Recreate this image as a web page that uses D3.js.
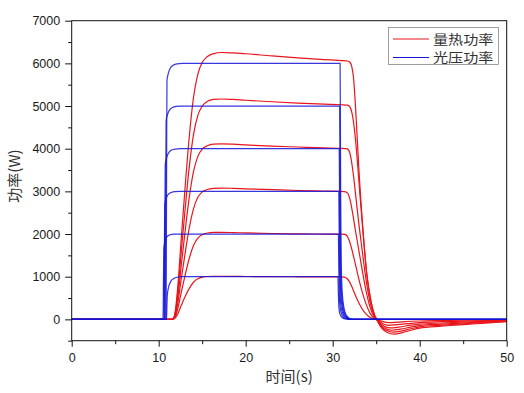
<!DOCTYPE html>
<html><head><meta charset="utf-8">
<script src="https://cdn.jsdelivr.net/npm/d3@7"></script>
<style>
html,body{margin:0;padding:0;background:#fff;}
svg{display:block;}
</style></head>
<body>
<svg id="chart" width="524" height="393"></svg>
<script>
// ---- data ----
const seriesNames = ["量热功率", "光压功率"];
const xTicks = [0, 10, 20, 30, 40, 50];
const xMinorTicks = [5, 15, 25, 35, 45];
const yTicks = [0, 1000, 2000, 3000, 4000, 5000, 6000, 7000];
const yMinorTicks = [-500, 500, 1500, 2500, 3500, 4500, 5500, 6500];

// 量热功率 (red), [time s, power W]
const red6000 = [[0,0],[11.6,0],[11.9,180],[12.2,780],[12.6,1920],[13.0,3000],[13.5,4250],[14.0,5200],[14.5,5750],[15.0,6020],[15.6,6160],[16.3,6230],[17.2,6255],[18.5,6245],[20,6225],[23,6175],[26,6130],[29,6090],[31.0,6065],[31.7,6055],[32.0,6020],[32.2,5920],[32.4,5650],[32.7,4700],[33.0,3550],[33.5,2050],[33.9,1080],[34.4,420],[34.8,100],[35.05,0],[35.5,-170],[36.2,-300],[37.1,-345],[38.0,-310],[39.0,-255],[40,-206],[42.5,-160],[45,-125],[47.5,-88],[50,-55]];
const red5000 = [[0,0],[11.6,0],[11.9,150],[12.2,650],[12.6,1600],[13.0,2500],[13.5,3550],[14.0,4330],[14.5,4780],[15.0,5000],[15.6,5110],[16.3,5155],[17.2,5165],[18.5,5155],[20,5135],[23,5100],[26,5070],[29,5045],[31.0,5030],[31.7,5020],[31.95,4985],[32.2,4850],[32.5,4450],[32.8,3800],[33.1,3000],[33.5,2000],[33.9,1100],[34.4,420],[34.8,110],[35.05,0],[35.5,-150],[36.2,-260],[37.0,-300],[38,-270],[39,-220],[40,-175],[42.5,-135],[45,-105],[47.5,-73],[50,-45]];
const red4000 = [[0,0],[11.6,0],[11.9,120],[12.2,520],[12.6,1280],[13.0,2000],[13.5,2840],[14.0,3460],[14.5,3820],[15.0,3990],[15.6,4070],[16.3,4105],[17.2,4112],[18.5,4105],[20,4090],[23,4060],[26,4040],[29,4020],[31.0,4010],[31.6,4000],[31.85,3960],[32.1,3780],[32.4,3350],[32.7,2800],[33.0,2250],[33.4,1600],[33.8,980],[34.3,400],[34.7,120],[35.05,0],[35.5,-125],[36.1,-220],[36.8,-255],[37.8,-230],[39,-180],[40,-145],[42.5,-110],[45,-85],[47.5,-60],[50,-37]];
const red3000 = [[0,0],[11.6,0],[11.9,90],[12.2,390],[12.6,960],[13.0,1500],[13.5,2130],[14.0,2590],[14.5,2860],[15.0,2985],[15.6,3045],[16.3,3070],[17.2,3078],[18.5,3072],[20,3060],[23,3040],[26,3020],[29,3008],[31.0,3000],[31.5,2990],[31.75,2950],[32.0,2800],[32.3,2480],[32.6,2100],[33.0,1620],[33.4,1150],[33.8,700],[34.3,280],[34.7,80],[35.05,0],[35.5,-95],[36.0,-170],[36.6,-200],[37.6,-180],[39,-135],[40,-110],[42.5,-85],[45,-65],[47.5,-45],[50,-28]];
const red2000 = [[0,0],[11.6,0],[11.9,60],[12.2,260],[12.6,640],[13.0,1000],[13.5,1420],[14.0,1730],[14.5,1905],[15.0,1985],[15.6,2025],[16.3,2038],[17.2,2040],[18.5,2035],[20,2025],[23,2012],[26,2005],[29,2000],[31.0,1997],[31.4,1990],[31.65,1955],[31.9,1850],[32.2,1640],[32.6,1300],[33.0,950],[33.4,640],[33.8,380],[34.3,140],[34.7,40],[35.05,0],[35.5,-65],[36.0,-120],[36.4,-140],[37.4,-125],[39,-92],[40,-75],[42.5,-55],[45,-42],[47.5,-28],[50,-18]];
const red1000 = [[0,0],[11.6,0],[11.9,30],[12.2,130],[12.6,330],[13.0,520],[13.5,720],[14.0,870],[14.5,950],[15.0,990],[15.6,1005],[16.3,1010],[17.2,1010],[18.5,1008],[20,1005],[23,1000],[26,998],[29,996],[31.0,995],[31.3,990],[31.6,965],[31.9,890],[32.3,720],[32.7,520],[33.1,350],[33.6,180],[34.1,75],[34.6,20],[35.05,0],[35.5,-35],[36.2,-70],[36.8,-75],[38,-58],[40,-38],[42.5,-28],[45,-20],[47.5,-13],[50,-8]];

// 光压功率 (blue), [time s, power W]
const blue6000 = [[0,0],[10.85,0],[10.9,3000],[10.95,5600],[11.05,5720],[11.2,5830],[11.4,5910],[11.7,5960],[12.1,5988],[12.7,6000],[30.85,6000],[30.88,4800],[30.92,2800],[30.97,1500],[31.05,800],[31.2,400],[31.4,180],[31.7,60],[32.0,15],[32.3,0],[50,0]];
const blue5000 = [[0,0],[10.75,0],[10.8,2500],[10.85,4650],[10.95,4760],[11.1,4850],[11.3,4920],[11.6,4965],[12.0,4990],[12.6,5000],[30.8,5000],[30.83,4000],[30.87,2300],[30.92,1250],[31.0,680],[31.15,340],[31.35,150],[31.65,50],[31.95,12],[32.25,0],[50,0]];
const blue4000 = [[0,0],[10.65,0],[10.7,2000],[10.75,3620],[10.85,3740],[11.0,3840],[11.2,3920],[11.5,3970],[11.9,3992],[12.5,4000],[30.75,4000],[30.78,3200],[30.82,1850],[30.87,1000],[30.95,550],[31.1,280],[31.3,120],[31.6,40],[31.9,10],[32.2,0],[50,0]];
const blue3000 = [[0,0],[10.6,0],[10.65,1500],[10.7,2680],[10.8,2790],[10.95,2880],[11.15,2940],[11.45,2975],[11.85,2995],[12.4,3000],[30.7,3000],[30.73,2400],[30.77,1400],[30.82,760],[30.9,420],[31.05,210],[31.25,90],[31.55,30],[31.85,8],[32.1,0],[50,0]];
const blue2000 = [[0,0],[10.5,0],[10.55,1000],[10.6,1690],[10.7,1800],[10.85,1900],[11.05,1955],[11.35,1985],[11.75,1997],[12.3,2000],[30.65,2000],[30.68,1600],[30.72,950],[30.77,520],[30.85,290],[31.0,140],[31.2,60],[31.5,20],[31.8,5],[32.0,0],[50,0]];
const blue1000 = [[0,0],[10.9,0],[10.95,350],[11.0,590],[11.1,720],[11.25,830],[11.45,910],[11.75,960],[12.1,988],[12.6,1000],[30.6,1000],[30.63,800],[30.67,480],[30.72,270],[30.8,150],[30.95,75],[31.15,30],[31.45,10],[31.75,0],[50,0]];

const redSeries = [red1000, red2000, red3000, red4000, red5000, red6000];
const blueSeries = [blue1000, blue2000, blue3000, blue4000, blue5000, blue6000];

// ---- layout ----
const W = 524, H = 393;
const m = {left: 71.7, right: 17.3, top: 20.7, bottom: 52.3};
const RED = "#e8161c", BLUE = "#1414d8";
const svg = d3.select("#chart");

const x = d3.scaleLinear().domain([0, 50]).range([m.left, W - m.right]);
const y = d3.scaleLinear().domain([-500, 7000]).range([H - m.bottom, m.top]);

const line = d3.line().x(d => x(d[0])).y(d => y(d[1])).curve(d3.curveMonotoneX);

const plot = svg.append("g");
plot.selectAll("path.red").data(redSeries).join("path")
  .attr("class", "red").attr("d", line)
  .attr("fill", "none").attr("stroke", RED).attr("stroke-width", 1.2);
plot.selectAll("path.blue").data(blueSeries).join("path")
  .attr("class", "blue").attr("d", line)
  .attr("fill", "none").attr("stroke", BLUE).attr("stroke-width", 1.2).attr("stroke-opacity", 0.85);

// frame
svg.append("rect")
  .attr("x", m.left).attr("y", m.top)
  .attr("width", W - m.left - m.right).attr("height", H - m.top - m.bottom)
  .attr("fill", "none").attr("stroke", "#111").attr("stroke-width", 1);

const tickFont = "'Liberation Sans', Arial, sans-serif";

// axes
const yAxis = svg.append("g").attr("transform", `translate(${m.left},0)`)
  .call(d3.axisLeft(y).tickValues(yTicks).tickSize(6.5).tickPadding(5).tickFormat(d3.format("d")));
const yMinor = svg.append("g").attr("transform", `translate(${m.left},0)`)
  .call(d3.axisLeft(y).tickValues(yMinorTicks).tickSize(3.5).tickFormat(""));
const xAxis = svg.append("g").attr("transform", `translate(0,${H - m.bottom})`)
  .call(d3.axisBottom(x).tickValues(xTicks).tickSize(6).tickPadding(6).tickFormat(d3.format("d")));
const xMinor = svg.append("g").attr("transform", `translate(0,${H - m.bottom})`)
  .call(d3.axisBottom(x).tickValues(xMinorTicks).tickSize(3.5).tickFormat(""));

[yAxis, yMinor, xAxis, xMinor].forEach(g => {
  g.select(".domain").remove();
  g.selectAll(".tick line").attr("stroke", "#111");
  g.selectAll("text").attr("font-family", tickFont).attr("font-size", 12.5).attr("fill", "#1a1a1a");
});

const cjkFont = "'Noto Sans CJK SC', 'Noto Sans', sans-serif";
svg.append("text").attr("x", (m.left + W - m.right) / 2).attr("y", 381.5)
  .attr("text-anchor", "middle").attr("font-family", cjkFont).attr("font-size", 15)
  .attr("fill", "#333").text("时间(s)");
svg.append("text").attr("transform", "translate(20,176) rotate(-90)")
  .attr("text-anchor", "middle").attr("font-family", cjkFont).attr("font-size", 15)
  .attr("fill", "#333").text("功率(W)");

// legend
const lg = svg.append("g");
lg.append("rect").attr("x", 388.5).attr("y", 27.5).attr("width", 110).attr("height", 37)
  .attr("fill", "#fff").attr("stroke", "#888").attr("stroke-width", 0.8);
const legendItems = [{name: seriesNames[0], color: RED, yy: 39}, {name: seriesNames[1], color: BLUE, yy: 57.5}];
legendItems.forEach(it => {
  lg.append("line").attr("x1", 393).attr("x2", 429).attr("y1", it.yy).attr("y2", it.yy)
    .attr("stroke", it.color).attr("stroke-width", 1.2);
  lg.append("text").attr("transform", `translate(433,${it.yy}) scale(1.2,1)`).attr("dy", "0.36em")
    .attr("font-family", cjkFont).attr("font-size", 12.6)
    .attr("fill", "#333").text(it.name);
});
</script>
</body></html>
